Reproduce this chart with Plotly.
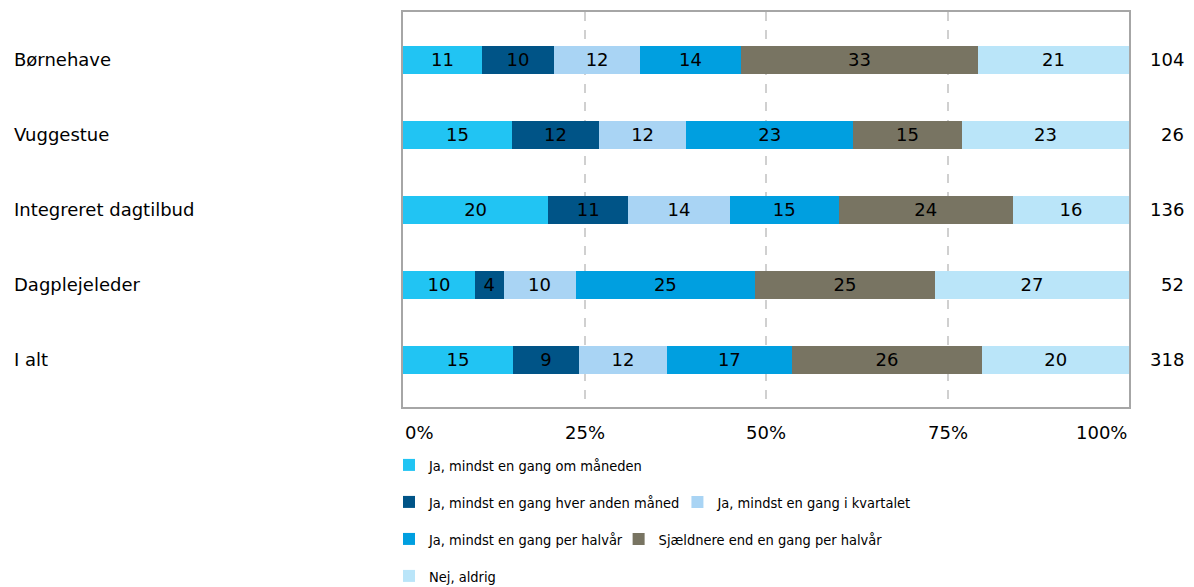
import plotly.graph_objects as go

categories = ["Børnehave", "Vuggestue", "Integreret dagtilbud", "Dagplejeleder", "I alt"]
totals = [104, 26, 136, 52, 318]

series_names = [
    "Ja, mindst en gang om måneden",
    "Ja, mindst en gang hver anden måned",
    "Ja, mindst en gang i kvartalet",
    "Ja, mindst en gang per halvår",
    "Sjældnere end en gang per halvår",
    "Nej, aldrig",
]
maaned = [11, 15, 20, 10, 15]
anden_maaned = [10, 12, 11, 4, 9]
kvartal = [12, 12, 14, 10, 12]
halvaar = [14, 23, 15, 25, 17]
sjaeldnere = [33, 15, 24, 25, 26]
aldrig = [21, 23, 16, 27, 20]

tick_vals = [0, 25, 50, 75, 100]
tick_text = ["0%", "25%", "50%", "75%", "100%"]

colors = ["#21C4F3", "#005487", "#A9D4F4", "#009FE0", "#787462", "#BAE5F9"]
legend_ids = ["legend", "legend2", "legend3", "legend4", "legend5", "legend6"]
# legend placement (paper coords): one legend per entry so the rows wrap like the original
legend_x = [-0.0193, -0.0193, 0.378, -0.0193, 0.297, -0.0193]
legend_y = [-0.1468, -0.2405, -0.2405, -0.3342, -0.3342, -0.4278]

FONT = "DejaVu Sans"
LEG_FONT = "DejaVu Sans Condensed, Liberation Sans Narrow, DejaVu Sans"

fig = go.Figure()
for name, vals, col, leg in zip(
    series_names, [maaned, anden_maaned, kvartal, halvaar, sjaeldnere, aldrig], colors, legend_ids
):
    fig.add_trace(go.Bar(
        y=categories,
        x=vals,
        name=name,
        orientation="h",
        marker=dict(color=col, line=dict(width=0)),
        width=0.37,
        text=[str(v) for v in vals],
        textposition="inside",
        insidetextanchor="middle",
        textangle=0,
        constraintext="none",
        textfont=dict(color="black", size=18, family=FONT),
        legend=leg,
    ))

# category labels (left aligned)
for cat in categories:
    fig.add_annotation(x=-0.5386, xref="paper", y=cat, yref="y", text=cat,
                       xanchor="left", showarrow=False,
                       font=dict(size=18, family=FONT, color="black"))

# totals on the right
for cat, n in zip(categories, totals):
    fig.add_annotation(x=1.0785, xref="paper", y=cat, yref="y", text=str(n),
                       xanchor="right", showarrow=False,
                       font=dict(size=18, family=FONT, color="black"))

# x tick labels
anchors = ["left", "center", "center", "center", "right"]
for v, t, a in zip(tick_vals, tick_text, anchors):
    fig.add_annotation(x=v, xref="x", y=0, yref="paper", yshift=-25, text=t,
                       xanchor=a, yanchor="middle", showarrow=False,
                       font=dict(size=18, family=FONT, color="black"))

legends = {}
for leg, lx, ly in zip(legend_ids, legend_x, legend_y):
    legends[leg] = dict(orientation="h", xanchor="left", yanchor="middle", x=lx, y=ly,
                        font=dict(size=14.5, family=LEG_FONT, color="black"),
                        bgcolor="rgba(0,0,0,0)", itemclick=False)

fig.update_layout(
    barmode="stack",
    barnorm="percent",
    width=1186,
    height=579,
    margin=dict(l=395, r=65, t=4, b=180, autoexpand=False),
    paper_bgcolor="white",
    plot_bgcolor="white",
    font=dict(family=FONT, size=18, color="black"),
    xaxis=dict(
        range=[0, 100],
        tickvals=[25, 50, 75],
        showticklabels=False,
        showgrid=True,
        gridcolor="#D0D0D0",
        griddash="dash",
        gridwidth=1.5,
        showline=True,
        linecolor="#A6A6A6",
        linewidth=1.5,
        mirror=True,
        zeroline=False,
        fixedrange=True,
    ),
    yaxis=dict(
        categoryorder="array",
        categoryarray=categories,
        range=[4.63, -0.64],
        showticklabels=False,
        showgrid=False,
        showline=True,
        linecolor="#A6A6A6",
        linewidth=1.5,
        mirror=True,
        fixedrange=True,
    ),
    showlegend=True,
    **legends,
)

fig.write_html("out.html")
